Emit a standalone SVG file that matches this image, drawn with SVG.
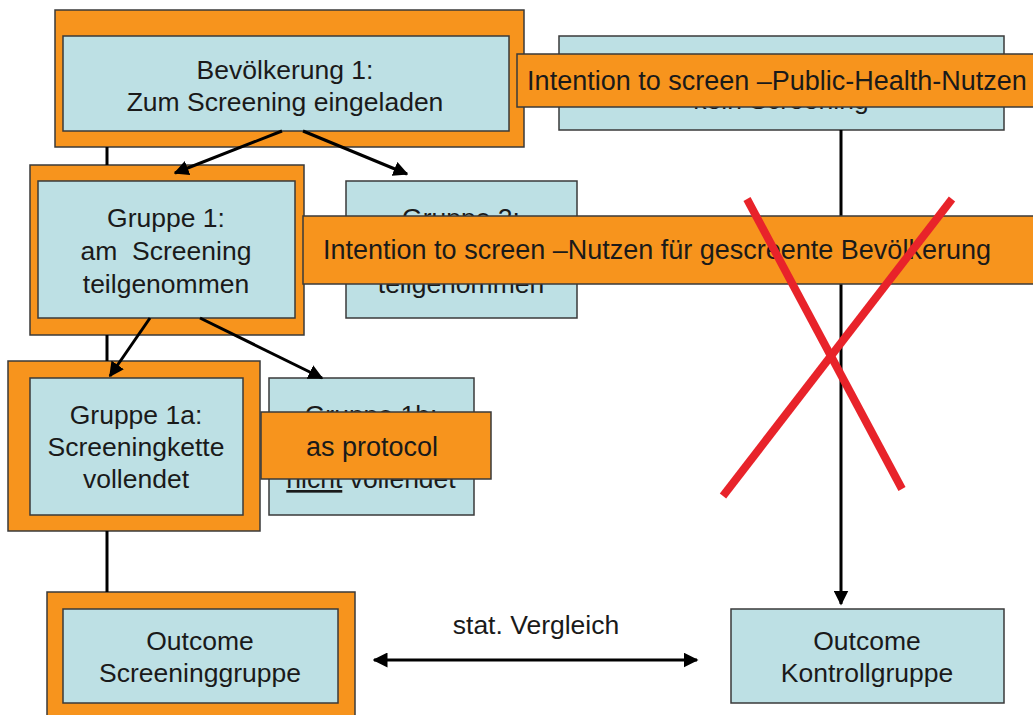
<svg xmlns="http://www.w3.org/2000/svg" width="1033" height="715" viewBox="0 0 1033 715">
<defs>
<style>
.frame{fill:#F7941D;stroke:#3a3a3a;stroke-width:1.5}
.box{fill:#BDE0E4;stroke:#3a3a3a;stroke-width:1.5}
.banner{fill:#F7941D;stroke:#3a3a3a;stroke-width:1.5}
text{font-family:"Liberation Sans",Arial,sans-serif;font-size:26.5px;fill:#1a1a1a;text-anchor:middle}
.btext{font-size:27px}
.line{stroke:#000;stroke-width:3;fill:none}
.cross{stroke:#E8232A;stroke-width:8;stroke-linecap:butt}
</style>
<marker id="ah" viewBox="0 0 10 10" refX="9" refY="5" markerWidth="5" markerHeight="5" orient="auto-start-reverse" markerUnits="strokeWidth">
<path d="M0,0 L10,5 L0,10 z" fill="#000"/>
</marker>
</defs>
<rect width="1033" height="715" fill="#fff"/>

<g id="bevoelkerung1">
<rect class="frame" x="55" y="10" width="469" height="137"/>
<rect class="box" x="63" y="36" width="446" height="95"/>
<text x="285" y="79">Bevölkerung 1:</text>
<text x="285" y="111">Zum Screening eingeladen</text>
</g>

<g id="bevoelkerung2">
<rect class="box" x="559" y="36" width="445" height="94"/>
<text x="781" y="109">kein Screening</text>
</g>

<g id="gruppe1">
<rect class="frame" x="30" y="165" width="274" height="170"/>
<rect class="box" x="38" y="181" width="257" height="137"/>
<text x="166" y="227">Gruppe 1:</text>
<text x="166" y="260" xml:space="preserve">am  Screening</text>
<text x="166" y="293">teilgenommen</text>
</g>

<g id="gruppe2">
<rect class="box" x="346" y="181" width="231" height="137"/>
<text x="461" y="227">Gruppe 2:</text>
<text x="461" y="293">teilgenommen</text>
</g>

<g id="gruppe1a">
<rect class="frame" x="8" y="361" width="252" height="170"/>
<rect class="box" x="30" y="378" width="213" height="137"/>
<text x="136" y="424">Gruppe 1a:</text>
<text x="136" y="456">Screeningkette</text>
<text x="136" y="488">vollendet</text>
</g>

<g id="gruppe1b">
<rect class="box" x="269" y="378" width="205" height="137"/>
<text x="371" y="424">Gruppe 1b:</text>
<text x="371" y="488"><tspan text-decoration="underline">nicht</tspan> vollendet</text>
</g>

<g id="outcome-screening">
<rect class="frame" x="47" y="592" width="308" height="130"/>
<rect class="box" x="63" y="609" width="275" height="94"/>
<text x="200" y="650">Outcome</text>
<text x="200" y="682">Screeninggruppe</text>
</g>

<g id="outcome-kontroll">
<rect class="box" x="731" y="609" width="273" height="94"/>
<text x="867" y="650">Outcome</text>
<text x="867" y="682">Kontrollgruppe</text>
</g>

<g id="connectors">
<line class="line" x1="107" y1="147" x2="107" y2="165"/>
<line class="line" x1="107" y1="335" x2="107" y2="361"/>
<line class="line" x1="107" y1="531" x2="107" y2="592"/>
<line class="line" x1="282" y1="131" x2="175" y2="173" marker-end="url(#ah)"/>
<line class="line" x1="303" y1="131" x2="407" y2="174" marker-end="url(#ah)"/>
<line class="line" x1="150" y1="318" x2="110" y2="376" marker-end="url(#ah)"/>
<line class="line" x1="200" y1="318" x2="322" y2="378" marker-end="url(#ah)"/>
<line class="line" x1="841" y1="130" x2="841" y2="604" marker-end="url(#ah)"/>
<line class="line" x1="374" y1="660" x2="697" y2="660" stroke-width="4" marker-start="url(#ah)" marker-end="url(#ah)"/>
<text x="536" y="634">stat. Vergleich</text>
</g>

<g id="banner-public-health">
<rect class="banner" x="517" y="54" width="520" height="53"/>
<text class="btext" x="777" y="90">Intention to screen –Public-Health-Nutzen</text>
</g>

<g id="banner-gescreente">
<rect class="banner" x="303" y="216" width="734" height="68"/>
<text class="btext" x="657" y="259">Intention to screen –Nutzen für gescreente Bevölkerung</text>
</g>

<g id="banner-protocol">
<rect class="banner" x="261" y="412" width="230" height="67"/>
<text class="btext" x="372" y="456">as protocol</text>
</g>

<g id="cross">
<line class="cross" x1="747" y1="199" x2="902" y2="489"/>
<line class="cross" x1="952" y1="199" x2="723" y2="496"/>
</g>
</svg>
